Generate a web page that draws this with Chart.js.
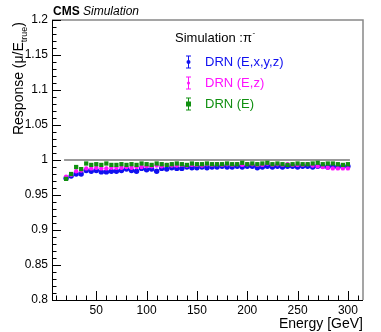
<!DOCTYPE html>
<html>
<head>
<meta charset="utf-8">
<script src="https://cdn.jsdelivr.net/npm/chart.js@4.4.1/dist/chart.umd.min.js"></script>
<style>
  html, body { margin: 0; padding: 0; background: #fff; }
  #wrap { width: 381px; height: 332px; }
</style>
</head>
<body>
<div id="wrap"><canvas id="c" width="381" height="332"></canvas></div>
<script>
// energies (GeV)
var energy = [20,25,30,35,40,45,50,55,60,65,70,75,80,85,90,95,100,105,110,115,120,125,130,135,140,145,150,155,160,165,170,175,180,185,190,195,200,205,210,215,220,225,230,235,240,245,250,255,260,265,270,275,280,285,290,295,300];

var respXYZ = [0.974,0.977,0.980,0.980,0.985,0.984,0.985,0.983,0.983,0.984,0.984,0.985,0.987,0.985,0.984,0.988,0.986,0.987,0.984,0.988,0.987,0.989,0.988,0.988,0.990,0.989,0.989,0.990,0.989,0.990,0.990,0.991,0.990,0.990,0.991,0.990,0.991,0.991,0.989,0.990,0.991,0.990,0.991,0.990,0.991,0.991,0.990,0.991,0.991,0.990,0.991,0.991,0.990,0.991,0.990,0.991,0.991];
var respEZ = [0.976,0.979,0.984,0.985,0.988,0.988,0.989,0.988,0.988,0.989,0.989,0.989,0.990,0.989,0.990,0.990,0.991,0.991,0.992,0.991,0.993,0.992,0.992,0.993,0.992,0.993,0.993,0.992,0.994,0.993,0.994,0.993,0.994,0.993,0.994,0.993,0.994,0.994,0.993,0.993,0.995,0.993,0.994,0.993,0.994,0.993,0.993,0.993,0.994,0.992,0.991,0.990,0.989,0.988,0.988,0.988,0.988];
var respE = [0.973,0.980,0.990,0.987,0.995,0.993,0.994,0.993,0.995,0.993,0.993,0.994,0.993,0.994,0.993,0.995,0.994,0.993,0.995,0.994,0.993,0.994,0.995,0.994,0.993,0.995,0.994,0.994,0.995,0.994,0.994,0.994,0.995,0.994,0.994,0.996,0.994,0.995,0.994,0.995,0.996,0.994,0.995,0.994,0.993,0.994,0.995,0.994,0.994,0.995,0.996,0.994,0.995,0.995,0.994,0.993,0.994];

var errXYZ = 0.002;
var errEZ = 0.002;
var errE = 0.002;

var xTicks = [50,100,150,200,250,300];
var yTicks = [0.8,0.85,0.9,0.95,1,1.05,1.1,1.15,1.2];
var seriesNames = ['DRN (E,x,y,z)', 'DRN (E,z)', 'DRN (E)'];

var cBlue = '#1010f0';
var cMag = '#ff10ff';
var cGreen = '#109010';
var FONT = "'Liberation Sans', Arial, sans-serif";

function pts(arr) {
    return energy.map(function (e, i) { return { x: e, y: arr[i] }; });
}

var rootPlugin = {
    id: 'rootStyle',
    beforeDatasetsDraw: function (chart) {
        var ctx = chart.ctx, xs = chart.scales.x, ys = chart.scales.y;
        var sets = [[respXYZ, errXYZ, cBlue], [respEZ, errEZ, cMag], [respE, errE, cGreen]];
        ctx.save();
        ctx.lineWidth = 1;
        sets.forEach(function (s) {
            ctx.strokeStyle = s[2];
            for (var i = 0; i < energy.length; i++) {
                var px = xs.getPixelForValue(energy[i]);
                ctx.beginPath();
                ctx.moveTo(px, ys.getPixelForValue(s[0][i] - s[1]));
                ctx.lineTo(px, ys.getPixelForValue(s[0][i] + s[1]));
                ctx.stroke();
            }
        });
        ctx.restore();
    },
    afterDraw: function (chart) {
        var ctx = chart.ctx, a = chart.chartArea, xs = chart.scales.x, ys = chart.scales.y;
        ctx.save();
        // frame
        ctx.strokeStyle = '#888';
        ctx.lineWidth = 1.5;
        ctx.beginPath();
        ctx.moveTo(a.left, a.top);
        ctx.lineTo(a.right, a.top);
        ctx.lineTo(a.right, a.bottom);
        ctx.stroke();
        ctx.strokeStyle = '#000';
        ctx.lineWidth = 1;
        ctx.beginPath();
        ctx.moveTo(a.left + 0.5, a.top);
        ctx.lineTo(a.left + 0.5, a.bottom + 0.5);
        ctx.lineTo(a.right, a.bottom + 0.5);
        ctx.stroke();
        // inner ticks
        ctx.beginPath();
        for (var v = 0.8; v <= 1.2001; v += 0.01) {
            var py = Math.round(ys.getPixelForValue(v)) + 0.5;
            var major = Math.abs(Math.round(v * 20) - v * 20) < 1e-6;
            ctx.moveTo(a.left, py);
            ctx.lineTo(a.left + (major ? 9 : 4.5), py);
        }
        for (var e = 10; e <= 310; e += 10) {
            var px = Math.round(xs.getPixelForValue(e)) + 0.5;
            ctx.moveTo(px, a.bottom);
            ctx.lineTo(px, a.bottom - (e % 50 === 0 ? 9 : 4.5));
        }
        ctx.stroke();

        // CMS Simulation
        ctx.fillStyle = '#000';
        ctx.textBaseline = 'alphabetic';
        ctx.textAlign = 'left';
        ctx.font = 'bold 12px ' + FONT;
        ctx.fillText('CMS', 53, 15);
        var w = ctx.measureText('CMS ').width;
        ctx.font = 'italic 12px ' + FONT;
        ctx.fillText('Simulation', 53 + w, 15);

        // x title
        ctx.font = '14px ' + FONT;
        ctx.textAlign = 'right';
        ctx.fillText('Energy [GeV]', a.right, 328);

        // y title, rotated
        ctx.translate(23, 22);
        ctx.rotate(-Math.PI / 2);
        ctx.textAlign = 'left';
        ctx.font = '14px ' + FONT;
        var p1 = 'Response (\u03bc/E', sub = 'true', p2 = ')';
        var w1 = ctx.measureText(p1).width, w3 = ctx.measureText(p2).width;
        ctx.font = '9px ' + FONT;
        var w2 = ctx.measureText(sub).width;
        var total = w1 + w2 + w3;
        ctx.font = '14px ' + FONT;
        ctx.fillText(p1, -total, 0);
        ctx.font = '9px ' + FONT;
        ctx.fillText(sub, -total + w1, 4);
        ctx.font = '14px ' + FONT;
        ctx.fillText(p2, -w3, 0);
        ctx.setTransform(1, 0, 0, 1, 0, 0);

        // legend
        ctx.textAlign = 'left';
        ctx.textBaseline = 'middle';
        ctx.font = '13px ' + FONT;
        ctx.fillStyle = '#000';
        ctx.fillText('Simulation :\u03c0', 175, 38);
        var sw = ctx.measureText('Simulation :\u03c0').width;
        ctx.font = '8px ' + FONT;
        ctx.fillText('-', 175 + sw + 0.5, 33);
        var cols = [cBlue, cMag, cGreen];
        var ly = [62, 83, 104];
        for (var k = 0; k < 3; k++) {
            var mx = 188.5;
            ctx.strokeStyle = cols[k];
            ctx.fillStyle = cols[k];
            ctx.lineWidth = 1;
            ctx.beginPath();
            ctx.moveTo(mx, ly[k] - 6); ctx.lineTo(mx, ly[k] + 6);
            ctx.moveTo(mx - 2.5, ly[k] - 6); ctx.lineTo(mx + 2.5, ly[k] - 6);
            ctx.moveTo(mx - 2.5, ly[k] + 6); ctx.lineTo(mx + 2.5, ly[k] + 6);
            ctx.stroke();
            ctx.beginPath();
            if (k === 0) ctx.arc(mx, ly[k], 2, 0, Math.PI * 2);
            else if (k === 1) ctx.arc(mx, ly[k], 1.5, 0, Math.PI * 2);
            else ctx.rect(mx - 2.5, ly[k] - 2.5, 5, 5);
            ctx.fill();
            ctx.font = '13px ' + FONT;
            ctx.fillText(seriesNames[k], 205, ly[k]);
        }
        ctx.restore();
    }
};

new Chart(document.getElementById('c').getContext('2d'), {
    type: 'scatter',
    data: {
        datasets: [
            { label: seriesNames[2], data: pts(respE), order: 1, pointStyle: 'rect', pointRadius: 3,
              backgroundColor: cGreen, borderColor: cGreen, borderWidth: 0 },
            { label: seriesNames[1], data: pts(respEZ), order: 2, pointStyle: 'circle', pointRadius: 2.2,
              backgroundColor: cMag, borderColor: cMag, borderWidth: 0 },
            { label: seriesNames[0], data: pts(respXYZ), order: 3, pointStyle: 'circle', pointRadius: 2.7,
              backgroundColor: cBlue, borderColor: cBlue, borderWidth: 0 },
            { label: 'ref', type: 'line', data: [{ x: 18, y: 1 }, { x: 302, y: 1 }], order: 4,
              borderColor: '#777', borderWidth: 1.5, pointRadius: 0, fill: false }
        ]
    },
    options: {
        responsive: false,
        animation: false,
        events: [],
        layout: { padding: { top: 20, right: 18, left: 0, bottom: 0 } },
        plugins: { legend: { display: false }, tooltip: { enabled: false } },
        scales: {
            x: {
                type: 'linear', min: 6, max: 315,
                grid: { display: false, drawTicks: false },
                border: { display: false },
                afterBuildTicks: function (s) { s.ticks = xTicks.map(function (v) { return { value: v }; }); },
                afterFit: function (s) { s.height = 32; },
                ticks: { color: '#000', padding: 3, maxRotation: 0, font: { family: FONT, size: 12 },
                         callback: function (v) { return String(v); } }
            },
            y: {
                type: 'linear', min: 0.8, max: 1.2,
                grid: { display: false, drawTicks: false },
                border: { display: false },
                afterBuildTicks: function (s) { s.ticks = yTicks.map(function (v) { return { value: v }; }); },
                afterFit: function (s) { s.width = 52; },
                ticks: { color: '#000', padding: 4, font: { family: FONT, size: 12 },
                         callback: function (v) { return String(Math.round(v * 100) / 100); } }
            }
        }
    },
    plugins: [rootPlugin]
});
</script>
</body>
</html>
